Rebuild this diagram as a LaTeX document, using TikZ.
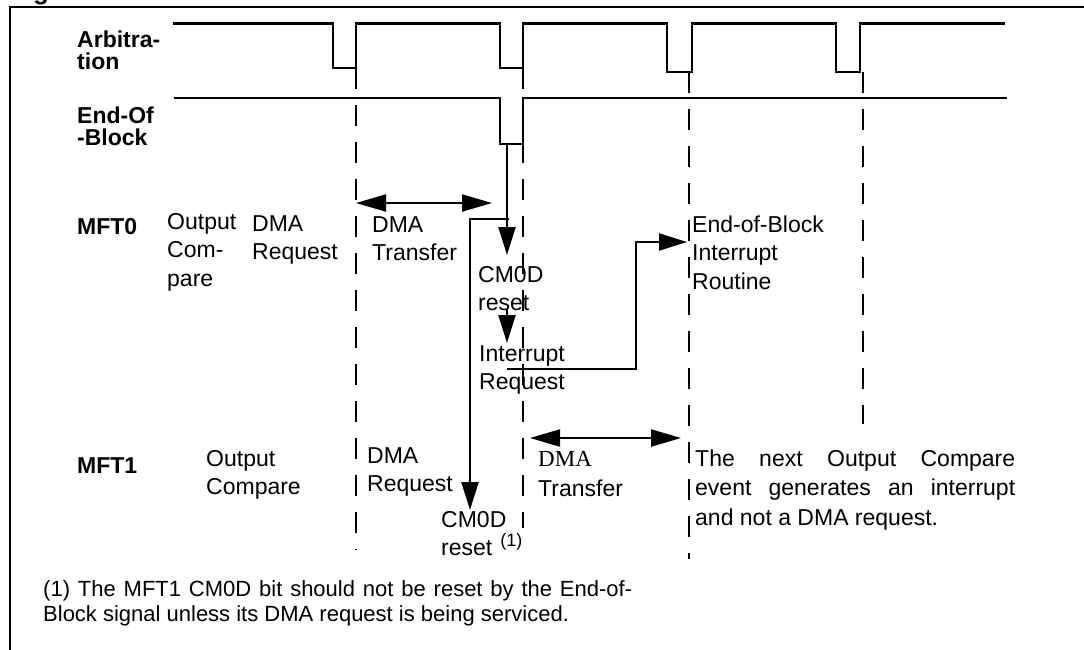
\documentclass[tikz,border=0pt]{standalone}
\usepackage{fontspec}
\setmainfont{Liberation Sans}
\newfontfamily\timesfont{Liberation Serif}
\usetikzlibrary{arrows.meta}
\newcommand\topstrut{\rule{0pt}{20pt}}
\begin{document}
\begin{tikzpicture}[x=1pt,y=-1pt,
  frame/.style={line width=2.8pt},
  wave/.style={line width=2.6pt},
  vgrid/.style={line width=2.3pt, dash pattern=on 21pt off 16pt},
  conn/.style={line width=2.2pt},
  tip/.style={-{Triangle[length=28pt,width=17pt]}},
  both/.style={{Triangle[length=30pt,width=17pt]}-{Triangle[length=30pt,width=17pt]}},
  lbl/.style={anchor=north west, inner sep=0pt, align=left, font=\fontsize{23}{28.5}\selectfont},
  sig/.style={anchor=north west, inner sep=0pt, align=left, font=\fontsize{23}{22}\selectfont\bfseries},
  note/.style={anchor=north west, inner sep=0pt, align=left, font=\fontsize{22}{25}\selectfont},
]
\useasboundingbox (0,0) rectangle (1084,649);

% cropped title fragment
\node[anchor=base west, inner sep=0pt, font=\fontsize{26}{26}\selectfont\bfseries] (title) at (33,-1) {g};

% frame
\draw[frame] (10,652) -- (10,7) -- (1088,7);

% signal names
\node[sig] (arb) at (77,27) {\topstrut Arbitra-\\tion};
\node[sig] (eob) at (77,103) {\topstrut End-Of\\-Block};
\node[sig] (mft0) at (77,214) {\topstrut MFT0};
\node[sig] (mft1) at (77,453) {\topstrut MFT1};

% waveforms
\draw[wave] (173,23.5) -| (333,68) -| (356,23.5) -| (500,68) -| (523,23.5)
  -| (667,72) -| (692,23.5) -| (836,72) -| (860,23.5) -- (1005,23.5);
\draw[wave] (174,98) -| (500,144) -| (523,98) -- (1007,98);

% dashed time markers
\draw[vgrid] (356,68) -- (356,550);
\draw[vgrid] (523,68) -- (523,528);
\draw[vgrid] (689,72) -- (689,559);
\draw[vgrid] (863,72) -- (863,424);

% MFT0 labels
\node[lbl] (oc0) at (167,209) {\topstrut Output\\Com-\\pare};
\node[lbl] (dreq0) at (252,211) {\topstrut DMA\\Request};
\node[lbl] (dtr0) at (372,212) {\topstrut DMA\\Transfer};
\node[lbl] (cm0) at (478,262) {\topstrut CM0D\\reset};
\node[lbl] (irq) at (479,341) {\topstrut Interrupt\\Request};
\node[lbl] (eobr) at (692,212) {\topstrut End-of-Block\\Interrupt\\Routine};

% MFT1 labels
\node[lbl] (oc1) at (206,446) {\topstrut Output\\Compare};
\node[lbl] (dreq1) at (367,443) {\topstrut DMA\\Request};
\node[lbl] (cm1) at (441,507) {\topstrut CM0D\\reset\hspace{8pt}\raisebox{9pt}{\fontsize{18}{18}\selectfont (1)}};
\node[lbl, font=\fontsize{23}{30}\selectfont] (dtr1) at (538,446) {\topstrut{\timesfont DMA}\\Transfer};
\node[lbl, font=\fontsize{23}{29.5}\selectfont] (next) at (695,446)
  {\topstrut\hbox to 320pt{The\hfill next\hfill Output\hfill Compare}\\
   \hbox to 320pt{event\hfill generates\hfill an\hfill interrupt}\\
   and not a DMA request.};

% footnote
\node[note] (fn) at (43,576)
  {\topstrut\makebox[589pt][s]{(1) The MFT1 CM0D bit should not be reset by the End-of-}\\
   Block signal unless its DMA request is being serviced.};

% connector points
\coordinate (eobPulse) at (507,144);
\coordinate (cm0In) at (507,255);
\coordinate (branch) at (509,219);
\coordinate (cm1In) at (470,510);
\coordinate (cm0Out) at (507,308);
\coordinate (irqIn) at (507,343);
\coordinate (irqOut) at (507,369);
\coordinate (bend) at (636,242);
\coordinate (eobrIn) at (687,242);
\coordinate (dt0L) at (356,203);
\coordinate (dt0R) at (492,203);
\coordinate (dt1L) at (530,438);
\coordinate (dt1R) at (681,438);

% connectors
\draw[conn,tip] (eobPulse) -- (cm0In);
\draw[conn,tip] (branch) -| (cm1In);
\draw[conn,tip] (cm0Out) -- (irqIn);
\draw[conn,tip] (irqOut) -| (bend) -- (eobrIn);
\draw[conn,both] (dt0L) -- (dt0R);
\draw[conn,both] (dt1L) -- (dt1R);
\end{tikzpicture}
\end{document}
